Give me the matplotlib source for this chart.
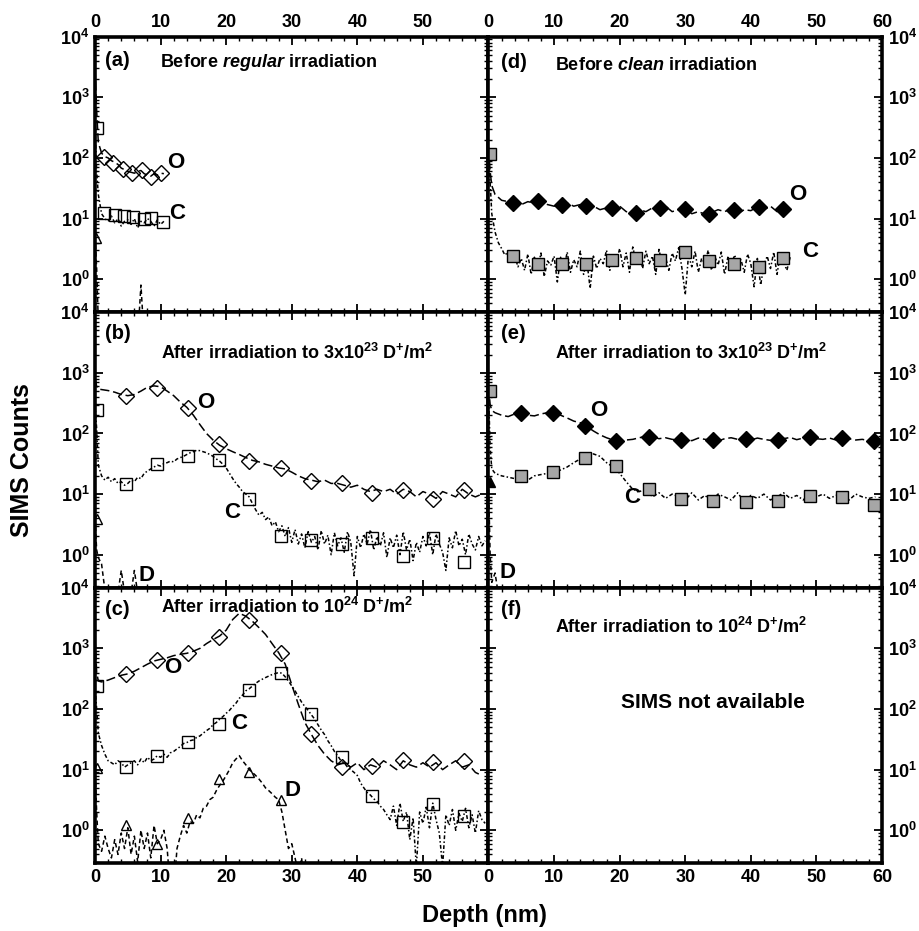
import numpy as np
import matplotlib
matplotlib.use('Agg')
import matplotlib.pyplot as plt
from matplotlib.ticker import FixedLocator, LogLocator, MultipleLocator, FuncFormatter, NullFormatter

plt.rcParams['font.family'] = ['Liberation Sans', 'DejaVu Sans']
plt.rcParams['mathtext.fontset'] = 'custom'
plt.rcParams['mathtext.rm'] = 'Liberation Sans:bold'
plt.rcParams['mathtext.bf'] = 'Liberation Sans:bold'
plt.rcParams['mathtext.it'] = 'Liberation Sans:bold:italic'
plt.rcParams['mathtext.default'] = 'rm'

# ---------------- data ----------------
surface = [0, 0.25, 0.5]
depth_a = np.array(surface + list(np.arange(1, 10.51, 0.5)))
depth_d = np.array(surface + list(np.arange(1, 47)))
depth_bce = np.array(surface + list(np.arange(1, 60)))
depth_fine = np.array([0, 0.25] + list(np.arange(0.5, 59.51, 0.5)))

# (a) before regular irradiation
a_O = [3000, 600, 180, 120, 105, 100, 90, 85, 78, 68, 64, 60, 58, 56, 60, 62, 55, 52, 50, 55, 52, 56, 55]
a_C = [350, 60, 25, 12, 10, 9, 11, 8.5, 10, 7.5, 9, 9.5, 8, 10, 7, 9, 8.5, 10, 9, 7.5, 9.5, 8, 9]
a_D = [5, 1.5, 0.2, 0.1, 0.1, 0.1, 0.1, 0.1, 0.1, 0.1, 0.1, 0.1, 0.1, 0.1, 0.1, 0.8, 0.1]
a_O_mx = [1.3, 2.8, 4.3, 5.7, 7.2, 8.6, 10.1]
a_O_my = [105, 84, 65, 56, 63, 49, 57]
a_C_mx = [0.35, 1.4, 3.0, 4.45, 5.8, 7.4, 8.6, 10.4]
a_C_my = [310, 12.2, 11.4, 11, 10.7, 10, 10.4, 8.9]
a_D_mx = [0.2]
a_D_my = [4.7]

# (b) after 3e23 D/m2 (regular)
b_O = [800, 600, 540,
       530, 510, 480, 440, 420, 440, 500, 580, 610, 590, 500, 420, 330, 270, 200, 140, 100, 78, 64, 56,
       50, 45, 40, 36, 34, 31, 29, 27, 26, 23, 20, 18, 17, 16, 17, 15, 15, 14, 13, 14, 12, 11, 12, 11,
       12, 10, 12, 11, 9, 11, 10, 8.5, 11, 10, 9, 12, 10, 9, 10]
b_C = [300, 120,                                            # fine grid
       30, 20, 17, 19, 16, 18, 15, 16, 14, 15,
       17, 16, 19, 18, 22, 24, 26, 28, 30, 29,
       32, 33, 35, 34, 38, 40, 42, 45, 48, 50,
       53, 52, 50, 48, 45, 42, 38, 35, 31, 27,
       22, 18, 15, 13, 11, 10, 9, 7, 5.5, 4.5,
       5, 3.8, 4.2, 3, 3.5, 2.4, 3.0, 2.0, 2.8, 1.6,
       2.6, 1.5, 2.2, 1.3, 2.4, 1.6, 2.0, 1.2, 2.5, 1.5,
       2.1, 1.0, 2.3, 1.4, 1.9, 1.1, 2.4, 1.6, 0.45, 2.0,
       1.3, 2.2, 1.5, 2.6, 1.2, 2.0, 1.4, 2.3, 0.9, 1.9,
       1.3, 2.1, 1.0, 2.4, 1.2, 1.8, 0.8, 1.6, 1.1, 2.0,
       1.4, 2.3, 1.0, 2.2, 1.5, 1.1, 0.55, 1.9, 1.3, 2.5,
       1.4, 1.8, 1.0, 2.2, 1.5, 1.2, 2.0, 1.4, 1.7]
b_D = [3.9, 1.2, 0.9, 0.7, 0.1, 0.1, 0.55, 0.1, 0.55, 0.1]
mk_x = [4.75, 9.5, 14.2, 18.9, 23.5, 28.3, 33.0, 37.6, 42.3, 47.0, 51.6, 56.2]
b_O_my = [414, 570, 265, 66, 35, 27, 16.7, 15, 10.3, 11.7, 8.3, 11.7]
b_C_mx = [0.35] + mk_x
b_C_my = [245, 14.7, 31, 42, 36, 8.3, 2.06, 1.75, 1.5, 1.86, 0.94, 1.86, 0.75]
b_D_mx = [0.25]
b_D_my = [3.9]

# (c) after 1e24 D/m2 (regular)
c_O = [1500, 400, 290,
       280, 300, 330, 360, 380, 420, 480, 550, 620, 660, 700, 760, 800, 830, 900, 1000, 1200, 1400,
       1600, 2000, 3000, 3800, 3400, 2800, 2200, 1700, 1200, 850, 550, 250, 120, 60, 38, 25, 18, 14,
       12, 13, 11, 13, 10, 12, 11, 14, 12, 10, 14, 12, 11, 13, 11, 13, 10, 12, 14, 11, 12, 9, 8]
c_C = [240, 100,                                            # fine grid
       40, 25, 18, 14, 13, 12, 14, 13, 11, 12,
       13, 14, 12, 15, 13, 16, 14, 15, 17, 16,
       18, 16, 19, 20, 22, 24, 27, 28, 30, 31,
       34, 36, 40, 44, 48, 55, 60, 68, 75, 85,
       95, 110, 125, 150, 170, 200, 215, 240, 265, 290,
       310, 330, 350, 370, 385, 400, 390, 340, 290, 240,
       200, 160, 130, 110, 95, 80, 68, 55, 45, 38,
       30, 25, 20, 17, 14, 13, 11, 10, 9, 8,
       6, 5, 4.2, 3.8, 3.3, 3, 2.5, 2.2, 1.8, 1.5,
       2.5, 1.2, 2.8, 1.4, 2.0, 0.7, 1.6, 0.25, 2.0, 1.3,
       2.4, 1.1, 2.8, 1.5, 0.9, 0.25, 1.8, 1.2, 2.2, 1.0,
       1.9, 1.4, 2.3, 1.1, 1.8, 0.9, 2.1, 1.5, 1.3]
c_D = [11, 2,                                               # fine grid
       0.6, 0.45, 0.8, 0.5, 0.35, 0.7, 0.4, 0.9, 0.5, 1.1,
       0.4, 0.8, 0.3, 1.0, 0.5, 0.9, 0.35, 1.2, 0.6, 0.7,
       1.0, 0.5, 0.1, 0.1, 0.5, 0.8, 1.2, 0.9, 1.4, 1.3,
       1.8, 1.6, 2.3, 2.5, 3.2, 3.5, 4.5, 5.5, 6.5, 8,
       10, 13, 15, 17, 14, 12, 10, 9, 8, 7,
       6, 5, 4.5, 4, 3.5, 3.2, 2.0, 1.0, 0.5, 0.6,
       0.35, 0.2, 0.35, 0.1]
c_O_my = [373, 645, 830, 1550, 2900, 830, 39, 11, 11.5, 14.2, 13.4, 13.8]
c_C_mx = [0.25] + mk_x
c_C_my = [240, 11, 16.6, 28.5, 57, 205, 390, 83, 16, 3.7, 1.35, 2.7, 1.7]
c_D_mx = [0.25, 4.75, 9.5, 14.2, 18.9, 23.5, 28.3]
c_D_my = [10.7, 1.2, 0.6, 1.57, 6.9, 9.2, 3.1]

# (d) before clean irradiation
d_O = [150, 60, 35,
       25, 20, 19, 18, 17, 19, 18, 19, 17, 16, 17, 18, 16, 17, 15, 16, 14, 15, 14, 16,
       13, 12.5, 14, 13, 15, 14, 16, 13, 14, 15, 12, 13, 11.8, 12.5, 14, 13, 14.5, 12, 14, 13.5,
       15.5, 14, 16, 13, 15, 14]
d_C = [120, 40,                                             # fine grid
       12, 6, 4, 3.2, 2.5, 2.8, 2.0, 2.4, 1.6, 2.2,
       1.4, 2.6, 1.2, 2.3, 1.5, 2.7, 1.1, 2.0, 1.7, 2.4,
       0.9, 2.3, 1.5, 2.8, 1.3, 2.1, 1.6, 2.9, 1.2, 2.0,
       0.7, 2.4, 1.5, 2.2, 1.8, 3.0, 1.4, 2.5, 1.9, 3.2,
       1.6, 2.7, 1.3, 3.4, 2.0, 2.6, 1.5, 2.9, 1.8, 2.4,
       1.2, 3.1, 1.7, 2.3, 1.4, 2.7, 2.0, 3.3, 1.5, 0.55,
       2.5, 1.6, 2.9, 1.3, 2.2, 1.8, 3.0, 1.4, 2.4, 1.7,
       2.8, 1.2, 2.3, 1.6, 2.5, 1.9, 2.1, 1.3, 2.6, 1.8,
       0.75, 2.2, 0.8, 1.7, 2.4, 1.5, 2.8, 1.2, 2.6, 1.9,
       1.4, 2.3]
d_O_mx = [3.8, 7.6, 11.2, 14.9, 18.8, 22.5, 26.2, 30.0, 33.7, 37.5, 41.2, 44.9]
d_O_my = [17.8, 19.5, 17, 16, 14.8, 12.5, 14.8, 14.2, 11.8, 13.8, 15.6, 14.2]
d_C_mx = [0.26] + d_O_mx
d_C_my = [117, 2.4, 1.8, 1.8, 1.8, 2.06, 2.25, 2.06, 2.8, 2.0, 1.8, 1.6, 2.25]

# (e) after 3e23 D/m2 (clean)
e_O = [600, 300, 240,
       220, 200, 190, 210, 220, 200, 195, 210, 220, 215, 200, 180, 160, 150, 130, 110, 95, 85,
       78, 75, 78, 80, 85, 90, 88, 82, 85, 80, 78, 82, 76, 84, 80, 78, 75, 82, 85, 80, 82,
       78, 84, 80, 77, 80, 82, 86, 79, 84, 88, 82, 80, 84, 78, 85, 82, 78, 80, 76, 78]
e_C = [500, 60, 26,
       22, 20, 19, 18, 19, 17, 20, 21, 22, 23, 25, 28, 33, 38, 44, 46, 42, 33, 28, 22,
       16, 12, 11, 12, 9, 10.5, 8.5, 10, 9, 8, 10.5, 8, 9.5, 7.8, 10, 9, 8, 10.5, 7.5,
       9.5, 8.5, 10, 8, 9, 10.5, 8.5, 9.5, 8, 10.5, 9, 10, 8.5, 9.5, 10.5, 8, 10, 9, 8.5, 9]
e_D = [16, 1.0, 0.35, 0.5, 0.1]
e_O_mx = [5.0, 9.8, 14.7, 19.5, 24.4, 29.3, 34.2, 39.2, 44.1, 49.0, 53.9, 58.8]
e_O_my = [217, 217, 135, 76, 89, 79, 79, 82, 79, 87, 85, 76]
e_C_mx = [0.26] + e_O_mx
e_C_my = [500, 20, 23, 40, 29.5, 12.2, 8.3, 7.8, 7.3, 7.8, 9.4, 8.9, 6.5]
e_D_mx = [0.26]
e_D_my = [16]

x_ticks = [0, 10, 20, 30, 40, 50, 60]
y_ticks = [1, 10, 100, 1000, 10000]

# ---------------- figure ----------------
fig, axes = plt.subplots(3, 2, figsize=(9.19, 9.31), dpi=100)
fig.subplots_adjust(left=0.1034, right=0.9597, bottom=0.0727, top=0.9606, hspace=0, wspace=0)

LS_O = (0, (6, 2.5))
LS_C = (0, (2.5, 1.5, 1, 1.5))
LS_D = (0, (3, 2))
LW = 1.1


def style(ax, col, row):
    ax.set_xlim(0, 60)
    ax.set_yscale('log')
    ax.set_ylim(0.285, 1e4)
    for s in ax.spines.values():
        s.set_linewidth(2.6)
    ax.xaxis.set_major_locator(FixedLocator(x_ticks))
    ax.xaxis.set_minor_locator(MultipleLocator(2))
    ax.yaxis.set_major_locator(FixedLocator(y_ticks))
    ax.yaxis.set_minor_locator(LogLocator(base=10, subs=np.arange(2, 10)))
    ax.yaxis.set_minor_formatter(NullFormatter())
    ax.yaxis.set_major_formatter(FuncFormatter(lambda v, p: r'$10^{%d}$' % int(round(np.log10(v)))))
    if col == 0:
        ax.xaxis.set_major_formatter(FuncFormatter(lambda v, p: '' if v >= 60 else '%d' % v))
    else:
        ax.xaxis.set_major_formatter(FuncFormatter(lambda v, p: '%d' % v))
    ax.tick_params(which='both', direction='in', top=True, bottom=True, left=True, right=True)
    ax.tick_params(which='major', length=6, width=1.3, labelsize=13, pad=4)
    ax.tick_params(which='minor', length=3, width=1.0)
    ax.tick_params(axis='x', labeltop=(row == 0), labelbottom=(row == 2))
    ax.tick_params(axis='y', labelleft=(col == 0), labelright=(col == 1))
    for lab in ax.get_xticklabels() + ax.get_yticklabels():
        lab.set_fontweight('bold')


def trace(ax, x, y, ls):
    ax.plot(x[:len(y)], y, color='black', lw=LW, ls=ls)


def marks(ax, xs, ys, marker, face, ms):
    ax.plot(xs, ys, ls='none', marker=marker, ms=ms, mfc=face, mec='black', mew=1.0)


for r in range(3):
    for c in range(2):
        style(axes[r, c], c, r)

ax = axes[0, 0]
trace(ax, depth_a, a_O, LS_O)
trace(ax, depth_a, a_C, LS_C)
trace(ax, depth_a, a_D, LS_D)
marks(ax, a_O_mx, a_O_my, 'D', 'none', 8)
marks(ax, a_C_mx, a_C_my, 's', 'none', 8)
marks(ax, a_D_mx, a_D_my, '^', 'none', 7)

ax = axes[1, 0]
trace(ax, depth_bce, b_O, LS_O)
trace(ax, depth_fine, b_C, LS_C)
trace(ax, depth_bce, b_D, LS_D)
marks(ax, mk_x, b_O_my, 'D', 'none', 8)
marks(ax, b_C_mx, b_C_my, 's', 'none', 8)
marks(ax, b_D_mx, b_D_my, '^', 'none', 7)

ax = axes[2, 0]
trace(ax, depth_bce, c_O, LS_O)
trace(ax, depth_fine, c_C, LS_C)
trace(ax, depth_fine, c_D, LS_D)
marks(ax, mk_x, c_O_my, 'D', 'none', 8)
marks(ax, c_C_mx, c_C_my, 's', 'none', 8)
marks(ax, c_D_mx, c_D_my, '^', 'none', 7)

ax = axes[0, 1]
trace(ax, depth_d, d_O, LS_O)
trace(ax, depth_fine, d_C, LS_C)
marks(ax, d_O_mx, d_O_my, 'D', 'black', 8)
marks(ax, d_C_mx, d_C_my, 's', '#a6a6a6', 8)

ax = axes[1, 1]
trace(ax, depth_bce, e_O, LS_O)
trace(ax, depth_bce, e_C, LS_C)
trace(ax, depth_bce, e_D, LS_D)
marks(ax, e_O_mx, e_O_my, 'D', 'black', 8)
marks(ax, e_C_mx, e_C_my, 's', '#a6a6a6', 8)
marks(ax, e_D_mx, e_D_my, '^', 'black', 7)

# ---------------- texts ----------------
TS = 13
panel_txt = [
    (axes[0, 0], '(a)', 0.025, 0.915, 'Before $\\mathit{regular}$ irradiation', 0.165, 0.908),
    (axes[1, 0], '(b)', 0.025, 0.924, 'After irradiation to 3x$10^{23}$ D$^{+}$/m$^{2}$', 0.168, 0.851),
    (axes[2, 0], '(c)', 0.025, 0.920, 'After irradiation to $10^{24}$ D$^{+}$/m$^{2}$', 0.168, 0.930),
    (axes[0, 1], '(d)', 0.033, 0.908, 'Before $\\mathit{clean}$ irradiation', 0.168, 0.897),
    (axes[1, 1], '(e)', 0.033, 0.924, 'After irradiation to 3x$10^{23}$ D$^{+}$/m$^{2}$', 0.170, 0.851),
    (axes[2, 1], '(f)', 0.033, 0.920, 'After irradiation to $10^{24}$ D$^{+}$/m$^{2}$', 0.170, 0.858),
]
for ax, lab, lx, ly, t, tx, ty in panel_txt:
    ax.text(lx, ly, lab, transform=ax.transAxes, fontsize=14.5, fontweight='bold', ha='left', va='center')
    ax.text(tx, ty, t, transform=ax.transAxes, fontsize=TS, fontweight='bold', ha='left', va='center')

axes[2, 1].text(0.338, 0.583, 'SIMS not available', transform=axes[2, 1].transAxes,
                fontsize=15, fontweight='bold', ha='left', va='center')

species_lbl = [
    (axes[0, 0], 'O', 0.204, 0.542), (axes[0, 0], 'C', 0.209, 0.360),
    (axes[1, 0], 'O', 0.282, 0.673), (axes[1, 0], 'C', 0.349, 0.274), (axes[1, 0], 'D', 0.132, 0.045),
    (axes[2, 0], 'O', 0.198, 0.709), (axes[2, 0], 'C', 0.366, 0.506), (axes[2, 0], 'D', 0.501, 0.266),
    (axes[0, 1], 'O', 0.786, 0.429), (axes[0, 1], 'C', 0.817, 0.222),
    (axes[1, 1], 'O', 0.280, 0.644), (axes[1, 1], 'C', 0.364, 0.328), (axes[1, 1], 'D', 0.048, 0.055),
]
for ax, s, x, y in species_lbl:
    ax.text(x, y, s, transform=ax.transAxes, fontsize=16, fontweight='bold', ha='center', va='center')

fig.text(0.024, 0.506, 'SIMS Counts', rotation=90, fontsize=18, fontweight='bold', ha='center', va='center')
fig.text(0.527, 0.017, 'Depth (nm)', fontsize=17, fontweight='bold', ha='center', va='center')

fig.savefig('out.png', dpi=100)
